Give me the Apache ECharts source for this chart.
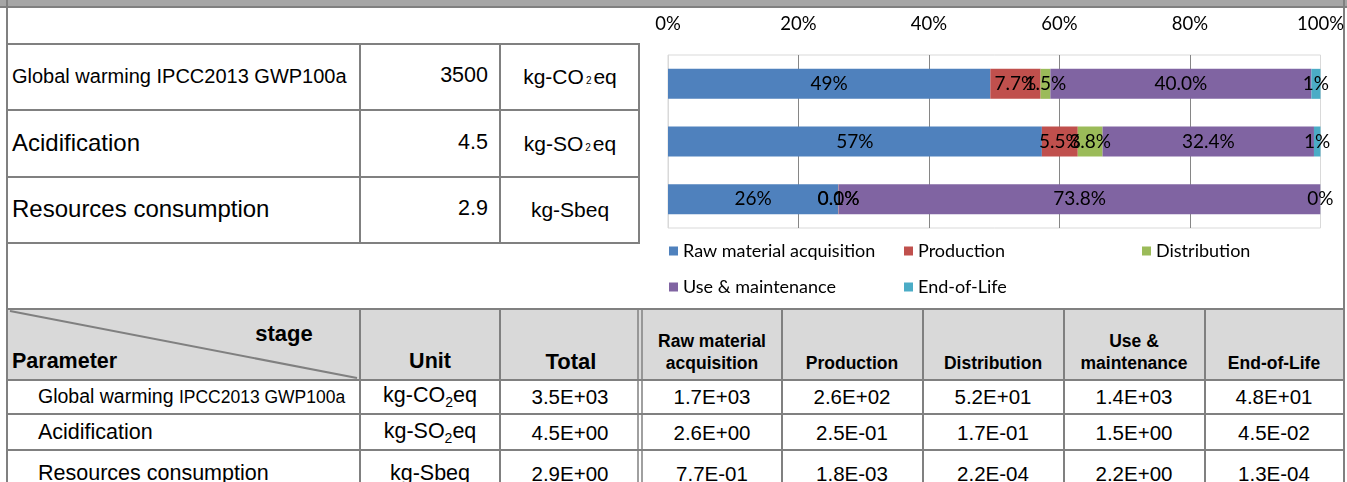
<!DOCTYPE html>
<html><head><meta charset="utf-8">
<script src="https://cdn.jsdelivr.net/npm/echarts@6/dist/echarts.min.js"></script>
<style>
body{margin:0;width:1347px;height:482px;overflow:hidden;background:#fff;font-family:"Liberation Sans",Arial,sans-serif;position:relative}
.t{position:absolute;white-space:nowrap;color:#000;line-height:1}
#lines{position:absolute;left:0;top:0}
#chart{position:absolute;left:0;top:0;width:1347px;height:482px}
</style></head>
<body>
<svg id="lines" width="1347" height="482"></svg>
<div id="texts"></div>
<div id="chart"></div>
<script>
// ---- data ----
const categories = ['Global warming IPCC2013 GWP100a', 'Acidification', 'Resources consumption'];
const stages = ['Raw material acquisition', 'Production', 'Distribution', 'Use & maintenance', 'End-of-Life'];
const rawPct  = [49.4, 57.3, 26.1];
const prodPct = [7.7, 5.5, 0.06];
const distPct = [1.5, 3.8, 0.01];
const usePct  = [40.0, 32.4, 73.8];
const eolPct  = [1.4, 1.0, 0.004];
const labelDecimals = [0, 1, 1, 1, 0];
const totals = ['3500', '4.5', '2.9'];
const totalsSci = ['3.5E+03', '4.5E+00', '2.9E+00'];
const rawVals  = ['1.7E+03', '2.6E+00', '7.7E-01'];
const prodVals = ['2.6E+02', '2.5E-01', '1.8E-03'];
const distVals = ['5.2E+01', '1.7E-01', '2.2E-04'];
const useVals  = ['1.4E+03', '1.5E+00', '2.2E+00'];
const eolVals  = ['4.8E+01', '4.5E-02', '1.3E-04'];
const colors = ['#4f81bd', '#c0504d', '#9bbb59', '#8064a2', '#4bacc6'];

// ---- table drawing (HTML/SVG) ----
const svg = document.getElementById('lines');
const NS = 'http://www.w3.org/2000/svg';
function rect(x, y, w, h, fill) {
  const r = document.createElementNS(NS, 'rect');
  r.setAttribute('x', x); r.setAttribute('y', y); r.setAttribute('width', w); r.setAttribute('height', h);
  r.setAttribute('fill', fill); svg.appendChild(r);
}
function line(x1, y1, x2, y2, c, w) {
  const l = document.createElementNS(NS, 'line');
  l.setAttribute('x1', x1); l.setAttribute('y1', y1); l.setAttribute('x2', x2); l.setAttribute('y2', y2);
  l.setAttribute('stroke', c || '#808080'); l.setAttribute('stroke-width', w || 2); svg.appendChild(l);
}
const texts = document.getElementById('texts');
function txt(x, yc, html, style, align) {
  const d = document.createElement('div');
  d.className = 't';
  d.innerHTML = html;
  d.style.cssText += style || '';
  d.style.top = yc + 'px';
  d.style.left = x + 'px';
  const tx = align === 'center' ? '-50%' : align === 'right' ? '-100%' : '0';
  d.style.transform = 'translate(' + tx + ',-50%)';
  texts.appendChild(d);
  return d;
}
// top band
rect(0, 0, 1347, 7, '#a6a6a6');
line(0, 7, 1347, 7, '#808080', 2);
// frame
line(7, 0, 7, 482); line(1344, 0, 1344, 482);
// upper table
[44, 110, 177, 243].forEach(y => line(6, y, 640, y));
[360, 500, 639].forEach(x => line(x, 43, x, 244));
// lower table
rect(8, 309, 1335, 71, '#d9d9d9');
line(6, 309, 1345, 309);
[380, 414, 450].forEach(y => line(6, y, 1345, y));
[360, 500, 782, 923, 1064, 1205].forEach(x => line(x, 308, x, 482));
line(638, 308, 638, 482, '#808080', 1.5); line(642, 308, 642, 482, '#808080', 1.5);
line(10, 311, 357, 378, '#808080', 2);

// upper table texts
const upFont = ['font-size:20px', 'font-size:24px', 'font-size:24px'];
const upY = [76, 143, 209];
const sm = '<span style="font-size:10px;margin:0 2px">2</span>';
const unitsUp = ['kg-CO' + sm + 'eq', 'kg-SO' + sm + 'eq', 'kg-Sbeq'];
categories.forEach((c, i) => {
  txt(12, upY[i], c, upFont[i]);
  txt(488, upY[i], totals[i], 'font-size:21.5px', 'right');
  txt(570, upY[i], unitsUp[i], 'font-size:21px', 'center');
});

// lower table header
const B = 'font-weight:bold;';
txt(284, 334, 'stage', B + 'font-size:22px', 'center');
txt(12, 362, 'Parameter', B + 'font-size:21.5px');
txt(430, 362, 'Unit', B + 'font-size:21.5px', 'center');
txt(571, 362, 'Total', B + 'font-size:22px', 'center');
const stageHead = ['Raw material<br>acquisition', 'Production', 'Distribution', 'Use &amp;<br>maintenance', 'End-of-Life'];
const stageCx = [712, 852, 993, 1134, 1274];
stageHead.forEach((h, i) => {
  txt(stageCx[i], h.indexOf('<br>') >= 0 ? 352 : 363, h, B + 'font-size:17.5px;text-align:center;line-height:22px', 'center');
});
// lower table rows
const rowsY = [397, 433, 474];
const lowNames = ['<span style="font-size:19.5px">Global warming </span><span style="font-size:17.5px">IPCC2013 GWP100a</span>', 'Acidification', 'Resources consumption'];
const unitsLow = ['kg-CO<sub style="font-size:14px">2</sub>eq', 'kg-SO<sub style="font-size:14px">2</sub>eq', 'kg-Sbeq'];
const stageVals = [rawVals, prodVals, distVals, useVals, eolVals];
lowNames.forEach((n, r) => {
  txt(38, rowsY[r], n, 'font-size:21.5px');
  txt(430, rowsY[r], unitsLow[r], 'font-size:21.5px', 'center');
  txt(570, rowsY[r], totalsSci[r], 'font-size:20.5px', 'center');
  stageVals.forEach((v, i) => txt(stageCx[i], rowsY[r], v[r], 'font-size:20.5px', 'center'));
});

// ---- chart ----
const seriesValues = [rawPct, prodPct, distPct, usePct, eolPct];
const legendLeft = [669, 904, 1142, 669, 904];
const legendTop = [242, 242, 242, 278, 278];
const chart = echarts.init(document.getElementById('chart'), null, {renderer: 'canvas'});
chart.setOption({
  animation: false,
  textStyle: {fontFamily: 'Lato'},
  grid: {left: 668, right: 25, top: 55, bottom: 254, show: true, borderColor: '#d9d9d9', borderWidth: 1},
  xAxis: {
    type: 'value', position: 'top', min: 0, max: 100, interval: 20,
    axisLabel: {formatter: '{value}%', fontSize: 18.5, color: '#000', margin: 21, fontFamily: 'Lato'},
    axisLine: {show: false}, axisTick: {show: false},
    splitLine: {lineStyle: {color: ['#d9d9d9', '#868686', '#868686', '#868686', '#868686', '#d9d9d9'], width: 1}}
  },
  yAxis: {type: 'category', data: categories, inverse: true, show: false},
  legend: stages.map((s, i) => ({
    data: [s], left: legendLeft[i], top: legendTop[i], icon: 'rect', itemWidth: 9, itemHeight: 9,
    padding: 0, selectedMode: false,
    textStyle: {fontSize: 18, color: '#000', fontFamily: 'Lato'}
  })),
  series: stages.map((s, i) => ({
    name: s, type: 'bar', stack: 'total', barWidth: 30,
    data: seriesValues[i],
    itemStyle: {color: colors[i]},
    label: {show: true, position: 'inside', color: '#000', fontSize: 19, fontFamily: 'Lato',
      formatter: p => p.value.toFixed(labelDecimals[i]) + '%'}
  }))
});
</script>
</body></html>
